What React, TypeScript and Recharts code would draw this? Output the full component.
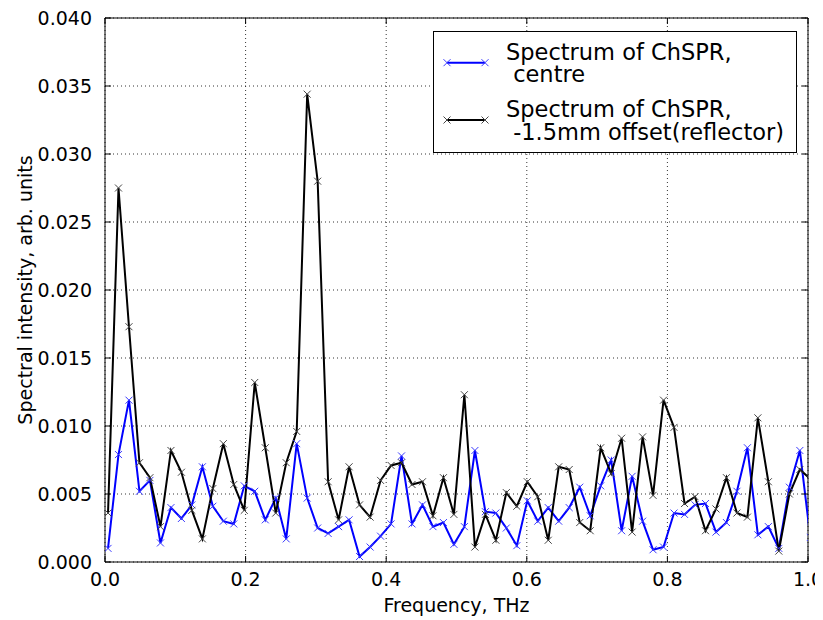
import { LineChart, Line, XAxis, YAxis, CartesianGrid, ReferenceLine, Legend, Label } from 'recharts';

// frequency grid, THz
const freq = [
  0.0043, 0.0192, 0.0341, 0.0490, 0.0639, 0.0789, 0.0938, 0.1087, 0.1236, 0.1385,
  0.1534, 0.1683, 0.1832, 0.1981, 0.2130, 0.2280, 0.2429, 0.2578, 0.2727, 0.2876,
  0.3025, 0.3174, 0.3323, 0.3472, 0.3621, 0.3771, 0.3920, 0.4069, 0.4218, 0.4367,
  0.4516, 0.4665, 0.4814, 0.4963, 0.5112, 0.5262, 0.5411, 0.5560, 0.5709, 0.5858,
  0.6007, 0.6156, 0.6305, 0.6454, 0.6603, 0.6753, 0.6902, 0.7051, 0.7200, 0.7349,
  0.7498, 0.7647, 0.7796, 0.7945, 0.8094, 0.8244, 0.8393, 0.8542, 0.8691, 0.8840,
  0.8989, 0.9138, 0.9287, 0.9436, 0.9585, 0.9735, 0.9884, 1.0033,
];

const centre = [
  0.0010, 0.0079, 0.0119, 0.0052, 0.0060, 0.0014, 0.0040, 0.0032, 0.0042, 0.0070,
  0.0041, 0.0030, 0.0028, 0.0056, 0.0052, 0.0031, 0.0047, 0.0017, 0.0087, 0.0047,
  0.0025, 0.0021, 0.0026, 0.0031, 0.0004, 0.0011, 0.0019, 0.0028, 0.0078, 0.0028,
  0.0042, 0.0026, 0.0029, 0.0013, 0.0026, 0.0082, 0.0037, 0.0036, 0.0025, 0.0012,
  0.0045, 0.0030, 0.0040, 0.0030, 0.0040, 0.0055, 0.0034, 0.0056, 0.0075, 0.0023,
  0.0063, 0.0030, 0.0009, 0.0011, 0.0036, 0.0035, 0.0042, 0.0043, 0.0022, 0.0029,
  0.0052, 0.0084, 0.0020, 0.0026, 0.0010, 0.0055, 0.0082, 0.0018,
];

const offset = [
  0.0036, 0.0275, 0.0173, 0.0073, 0.0062, 0.0026, 0.0082, 0.0066, 0.0038, 0.0017,
  0.0054, 0.0087, 0.0057, 0.0038, 0.0132, 0.0084, 0.0036, 0.0073, 0.0096, 0.0344,
  0.0280, 0.0059, 0.0031, 0.0070, 0.0042, 0.0033, 0.0060, 0.0071, 0.0073, 0.0057,
  0.0059, 0.0034, 0.0062, 0.0035, 0.0123, 0.0011, 0.0035, 0.0016, 0.0051, 0.0041,
  0.0059, 0.0048, 0.0016, 0.0070, 0.0068, 0.0029, 0.0023, 0.0084, 0.0065, 0.0091,
  0.0022, 0.0092, 0.0049, 0.0119, 0.0099, 0.0043, 0.0048, 0.0023, 0.0039, 0.0062,
  0.0036, 0.0033, 0.0106, 0.0059, 0.0008, 0.0050, 0.0068, 0.0061,
];

const xTicks = [0, 0.2, 0.4, 0.6, 0.8, 1.0];
const yTicks = [0, 0.005, 0.01, 0.015, 0.02, 0.025, 0.03, 0.035, 0.04];

const legendLines = [
  ['Spectrum of ChSPR,', ' centre'],
  ['Spectrum of ChSPR,', ' -1.5mm offset(reflector)'],
];
const colors = ['#0000ff', '#000000'];
const markColors = ['#3a3aff', '#444444'];

const data = freq.map((f, i) => ({ f, centre: centre[i], offset: offset[i] }));

const FONT = '"DejaVu Sans", sans-serif';
const FS = 19;
const PLOT_W = 703;
const PLOT_H = 544;
const TICK = 6;

const makeMark = (color: string) => (props: any) => {
  const { cx, cy, index } = props;
  if (cx == null || cy == null) return <g key={index} />;
  const s = 3.5;
  return (
    <g key={index} stroke={color} strokeWidth={1}>
      <line x1={cx - s} y1={cy - s} x2={cx + s} y2={cy + s} />
      <line x1={cx - s} y1={cy + s} x2={cx + s} y2={cy - s} />
    </g>
  );
};

const YTick = (props: any) => {
  const { x, y, payload } = props;
  const ax = x + 13;
  return (
    <g>
      <line x1={ax} x2={ax + TICK} y1={y} y2={y} stroke="#000" />
      <line x1={ax + PLOT_W - TICK} x2={ax + PLOT_W} y1={y} y2={y} stroke="#000" />
      <text x={x} y={y} textAnchor="end" dominantBaseline="central" fontSize={FS} fontFamily={FONT} fill="#000">
        {payload.value.toFixed(3)}
      </text>
    </g>
  );
};

const XTick = (props: any) => {
  const { x, y, payload } = props;
  const ay = y - 8;
  return (
    <g>
      <line x1={x} x2={x} y1={ay} y2={ay - TICK} stroke="#000" />
      <line x1={x} x2={x} y1={ay - PLOT_H} y2={ay - PLOT_H + TICK} stroke="#000" />
      <text x={x} y={ay + 24} textAnchor="middle" fontSize={FS} fontFamily={FONT} fill="#000">
        {payload.value.toFixed(1)}
      </text>
    </g>
  );
};

const LegendBox = () => (
  <svg width={364} height={122} style={{ display: 'block' }}>
    <rect x={0.5} y={0.5} width={363} height={121} fill="#fff" stroke="#000" strokeWidth={1} />
    {legendLines.map((lines, i) => {
      const ly = i === 0 ? 31.7 : 89;
      const mk = makeMark(markColors[i]);
      return (
        <g key={i}>
          <line x1={14} x2={52} y1={ly} y2={ly} stroke={colors[i]} strokeWidth={2} />
          {mk({ cx: 14, cy: ly, index: 'a' })}
          {mk({ cx: 52, cy: ly, index: 'b' })}
          {lines.map((t, j) => (
            <text
              key={j}
              x={73}
              y={ly - 11 + j * 22.5}
              dominantBaseline="central"
              fontSize={22.5}
              fontFamily={FONT}
              fill="#000"
              style={{ whiteSpace: 'pre' }}
            >
              {t}
            </text>
          ))}
        </g>
      );
    })}
  </svg>
);

export default function App() {
  return (
    <div>
      <style>
        {'html { overflow: hidden; } body { overflow: visible; } .recharts-wrapper, .recharts-surface { overflow: visible !important; }'}
      </style>
      <LineChart width={823} height={612} data={data} margin={{ top: 10, right: 23, left: 0, bottom: 0 }}>
        <CartesianGrid stroke="#000" strokeDasharray="1 3" strokeWidth={0.8} />
        <XAxis
          dataKey="f"
          type="number"
          domain={[0, 1]}
          ticks={xTicks}
          allowDataOverflow
          height={58}
          tickSize={0}
          tickMargin={8}
          tickLine={false}
          axisLine={{ stroke: '#000' }}
          tick={<XTick />}
        >
          <Label
            content={() => (
              <text x={448.5} y={604} textAnchor="middle" fontSize={FS} fontFamily={FONT} fill="#000">
                Frequency, THz
              </text>
            )}
          />
        </XAxis>
        <YAxis
          type="number"
          domain={[0, 0.04]}
          ticks={yTicks}
          allowDataOverflow
          width={97}
          tickSize={0}
          tickMargin={13}
          tickLine={false}
          axisLine={{ stroke: '#000' }}
          tick={<YTick />}
        >
          <Label
            content={() => (
              <text
                x={17}
                y={282}
                transform="rotate(-90 17 282)"
                textAnchor="middle"
                dominantBaseline="central"
                fontSize={FS}
                fontFamily={FONT}
                fill="#000"
              >
                Spectral intensity, arb. units
              </text>
            )}
          />
        </YAxis>
        <ReferenceLine y={0.04} stroke="#000" strokeWidth={1} />
        <ReferenceLine x={1} stroke="#000" strokeWidth={1} />
        <Line
          dataKey="centre"
          stroke={colors[0]}
          strokeWidth={2}
          dot={makeMark(markColors[0])}
          activeDot={false}
          isAnimationActive={false}
        />
        <Line
          dataKey="offset"
          stroke={colors[1]}
          strokeWidth={2}
          dot={makeMark(markColors[1])}
          activeDot={false}
          isAnimationActive={false}
        />
        <Legend
          layout="vertical"
          align="center"
          verticalAlign="middle"
          content={<LegendBox />}
          wrapperStyle={{ position: 'absolute', left: 425, top: 23, width: 364, height: 122 }}
        />
      </LineChart>
    </div>
  );
}
